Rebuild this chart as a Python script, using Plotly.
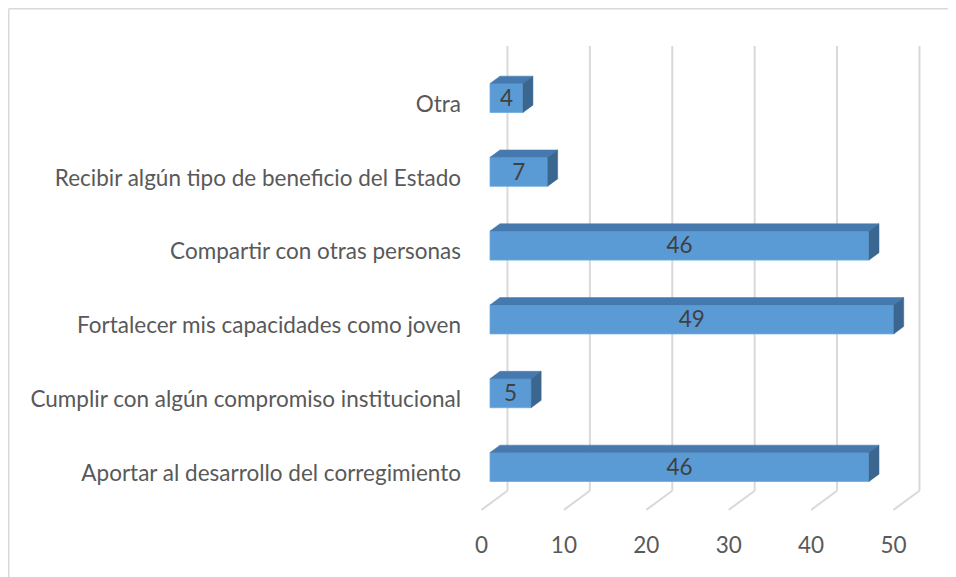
import plotly.graph_objects as go

categories = [
    "Aportar al desarrollo del corregimiento",
    "Cumplir con algún compromiso institucional",
    "Fortalecer mis capacidades como joven",
    "Compartir con otras personas",
    "Recibir algún tipo de beneficio del Estado",
    "Otra",
]
values = [46, 5, 49, 46, 7, 4]
x_ticks = [0, 10, 20, 30, 40, 50]

# 3-D look parameters (in axis units)
BAR_SHIFT = 0.081     # front face centre relative to category
BAR_H = 0.393         # front face height
DEPTH_X = 1.21        # bar depth, x units
DEPTH_Y = 0.10        # bar depth, y units
WALL_X = 2.12         # back wall offset
WALL_TOP = 5.786
WALL_BOT = -0.24
FLOOR_X = -1.03
FLOOR_Y = -0.50
LABEL_NUDGE = -0.03

XR = [-3.398, 55.22]
YR = [-0.759, 6.138]

FONT = "Lato"
FS = 22.5

L, R, T, B = 454, 19, 12, 56
PW = 956 - L - R
PH = 577 - T - B

def px(fx):
    return (fx - L) / PW

def py(fy):
    return (577 - B - fy) / PH

idx = list(range(len(categories)))

fig = go.Figure()

# front faces
fig.add_trace(go.Bar(x=values, y=[i + BAR_SHIFT for i in idx], orientation="h",
                     width=BAR_H, marker=dict(color="#5b9bd5",
                     line=dict(color="#6fa9dc", width=0.8)),
                     hoverinfo="skip", showlegend=False))

# top and side faces
tx, ty, sx, sy = [], [], [], []
for i, v in zip(idx, values):
    yt = i + BAR_SHIFT + BAR_H / 2
    yb = i + BAR_SHIFT - BAR_H / 2
    tx += [0, v, v + DEPTH_X, DEPTH_X, 0, None]
    ty += [yt, yt, yt + DEPTH_Y, yt + DEPTH_Y, yt, None]
    sx += [v, v + DEPTH_X, v + DEPTH_X, v, v, None]
    sy += [yb, yb + DEPTH_Y, yt + DEPTH_Y, yt, yb, None]
fig.add_trace(go.Scatter(x=tx, y=ty, mode="lines", fill="toself",
                         fillcolor="#4679ad", line=dict(color="#4679ad", width=0.5),
                         hoverinfo="skip", showlegend=False))
fig.add_trace(go.Scatter(x=sx, y=sy, mode="lines", fill="toself",
                         fillcolor="#3b6690", line=dict(color="#3b6690", width=0.5),
                         hoverinfo="skip", showlegend=False))

# data labels
fig.add_trace(go.Scatter(x=[v / 2 for v in values],
                         y=[i + BAR_SHIFT + LABEL_NUDGE for i in idx],
                         mode="text", text=[str(v) for v in values],
                         textfont=dict(family=FONT, size=FS, color="#404040"),
                         hoverinfo="skip", showlegend=False))

# invisible trace carrying the tick axis
fig.add_trace(go.Scatter(x=[x_ticks[0]], y=[0], xaxis="x2", mode="markers",
                         marker=dict(opacity=0), hoverinfo="skip", showlegend=False))

# gridlines on back wall + floor diagonals (behind the bars)
grid = dict(color="#d9d9d9", width=2)
shapes = []
for v in x_ticks:
    shapes.append(dict(type="line", xref="x", yref="y", layer="below",
                       x0=v + WALL_X, x1=v + WALL_X, y0=WALL_TOP, y1=WALL_BOT, line=grid))
    shapes.append(dict(type="line", xref="x", yref="y", layer="below",
                       x0=v + WALL_X, x1=v + FLOOR_X, y0=WALL_BOT, y1=FLOOR_Y, line=grid))

border = dict(color="#d9d9d9", width=1.5)
shapes += [
    dict(type="line", xref="paper", yref="paper",
         x0=px(0.75), x1=px(0.75), y0=py(0.75), y1=py(600), line=border),
    dict(type="line", xref="paper", yref="paper",
         x0=px(0.75), x1=px(1000), y0=py(0.75), y1=py(0.75), line=border),
]

fig.update_layout(
    width=956, height=577,
    margin=dict(l=L, r=R, t=T, b=B),
    paper_bgcolor="white", plot_bgcolor="rgba(0,0,0,0)",
    font=dict(family=FONT, size=FS, color="#595959"),
    xaxis=dict(range=XR, showgrid=False, zeroline=False, showline=False,
               showticklabels=False, ticks=""),
    xaxis2=dict(range=[XR[0] - FLOOR_X, XR[1] - FLOOR_X], overlaying="x", side="bottom",
                anchor="y", tickvals=x_ticks, ticktext=[str(t) for t in x_ticks],
                showgrid=False, zeroline=False, showline=False, ticks="",
                tickfont=dict(family=FONT, size=FS, color="#595959")),
    yaxis=dict(range=YR, tickvals=idx, ticktext=categories, showgrid=False,
               zeroline=False, showline=False, ticks="",
               tickfont=dict(family=FONT, size=FS, color="#595959")),
    shapes=shapes,
)

fig.write_html("out.html")
